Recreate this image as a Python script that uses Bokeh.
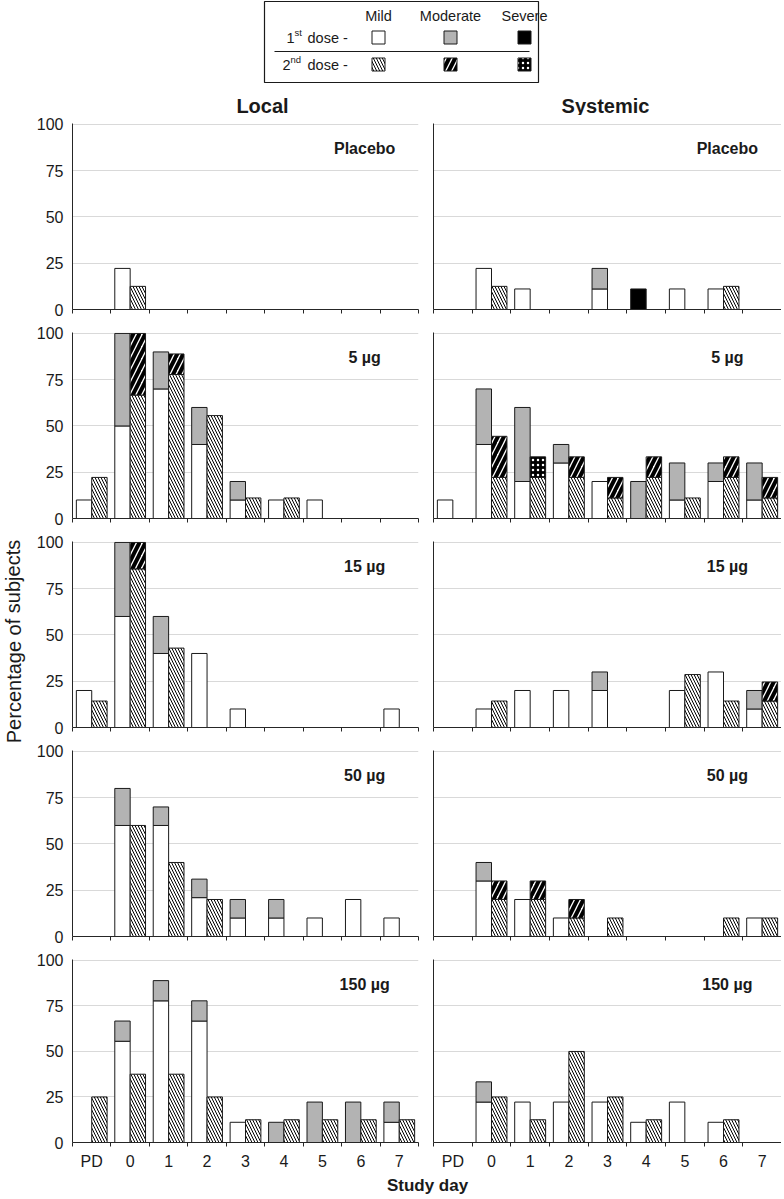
import math
from bokeh.plotting import figure
from bokeh.models import Range1d, FixedTicker, ColumnDataSource
from bokeh.layouts import column, row
from bokeh.embed import file_html
from bokeh.resources import INLINE
from bokeh.core.properties import value

FONT = "Liberation Sans"
INK = "#1a1a1a"

DAYS = ["PD", "0", "1", "2", "3", "4", "5", "6", "7"]
PANEL_LABELS = ["Placebo", "5 µg", "15 µg", "50 µg", "150 µg"]
NONE = [0, 0, 0, 0, 0, 0, 0, 0, 0]

# ---------------- Local reactions (percentage of subjects) ----------------
LOC_PLA_D1_MILD = [0, 22.2, 0, 0, 0, 0, 0, 0, 0]
LOC_PLA_D2_MILD = [0, 12.5, 0, 0, 0, 0, 0, 0, 0]

LOC_5_D1_MILD = [10, 50, 70, 40, 10, 10, 10, 0, 0]
LOC_5_D1_MOD = [0, 50, 20, 20, 10, 0, 0, 0, 0]
LOC_5_D2_MILD = [22.2, 66.7, 77.8, 55.6, 11.1, 11.1, 0, 0, 0]
LOC_5_D2_MOD = [0, 33.3, 11.1, 0, 0, 0, 0, 0, 0]

LOC_15_D1_MILD = [20, 60, 40, 40, 10, 0, 0, 0, 10]
LOC_15_D1_MOD = [0, 40, 20, 0, 0, 0, 0, 0, 0]
LOC_15_D2_MILD = [14.3, 85.7, 42.9, 0, 0, 0, 0, 0, 0]
LOC_15_D2_MOD = [0, 14.3, 0, 0, 0, 0, 0, 0, 0]

LOC_50_D1_MILD = [0, 60, 60, 21, 10, 10, 10, 20, 10]
LOC_50_D1_MOD = [0, 20, 10, 10, 10, 10, 0, 0, 0]
LOC_50_D2_MILD = [0, 60, 40, 20, 0, 0, 0, 0, 0]

LOC_150_D1_MILD = [0, 55.6, 77.8, 66.7, 11.1, 0, 0, 0, 11.1]
LOC_150_D1_MOD = [0, 11.1, 11.1, 11.1, 0, 11.1, 22.2, 22.2, 11.1]
LOC_150_D2_MILD = [25, 37.5, 37.5, 25, 12.5, 12.5, 12.5, 12.5, 12.5]

# ---------------- Systemic reactions (percentage of subjects) ----------------
SYS_PLA_D1_MILD = [0, 22.2, 11.1, 0, 11.1, 0, 11.1, 11.1, 0]
SYS_PLA_D1_MOD = [0, 0, 0, 0, 11.1, 0, 0, 0, 0]
SYS_PLA_D1_SEV = [0, 0, 0, 0, 0, 11.1, 0, 0, 0]
SYS_PLA_D2_MILD = [0, 12.5, 0, 0, 0, 0, 0, 12.5, 0]

SYS_5_D1_MILD = [10, 40, 20, 30, 20, 0, 10, 20, 10]
SYS_5_D1_MOD = [0, 30, 40, 10, 0, 20, 20, 10, 20]
SYS_5_D2_MILD = [0, 22.2, 22.2, 22.2, 11.1, 22.2, 11.1, 22.2, 11.1]
SYS_5_D2_MOD = [0, 22.2, 0, 11.1, 11.1, 11.1, 0, 11.1, 11.1]
SYS_5_D2_SEV = [0, 0, 11.1, 0, 0, 0, 0, 0, 0]

SYS_15_D1_MILD = [0, 10, 20, 20, 20, 0, 20, 30, 10]
SYS_15_D1_MOD = [0, 0, 0, 0, 10, 0, 0, 0, 10]
SYS_15_D2_MILD = [0, 14.3, 0, 0, 0, 0, 28.6, 14.3, 14.3]
SYS_15_D2_MOD = [0, 0, 0, 0, 0, 0, 0, 0, 10.3]

SYS_50_D1_MILD = [0, 30, 20, 10, 0, 0, 0, 0, 10]
SYS_50_D1_MOD = [0, 10, 0, 0, 0, 0, 0, 0, 0]
SYS_50_D2_MILD = [0, 20, 20, 10, 10, 0, 0, 10, 10]
SYS_50_D2_MOD = [0, 10, 10, 10, 0, 0, 0, 0, 0]

SYS_150_D1_MILD = [0, 22.2, 22.2, 22.2, 22.2, 11.1, 22.2, 11.1, 0]
SYS_150_D1_MOD = [0, 11.1, 0, 0, 0, 0, 0, 0, 0]
SYS_150_D2_MILD = [0, 25, 12.5, 50, 25, 12.5, 0, 12.5, 0]

# (dose1 mild, mod, sev), (dose2 mild, mod, sev)
LOCAL_PANELS = [
    ((LOC_PLA_D1_MILD, NONE, NONE), (LOC_PLA_D2_MILD, NONE, NONE)),
    ((LOC_5_D1_MILD, LOC_5_D1_MOD, NONE), (LOC_5_D2_MILD, LOC_5_D2_MOD, NONE)),
    ((LOC_15_D1_MILD, LOC_15_D1_MOD, NONE), (LOC_15_D2_MILD, LOC_15_D2_MOD, NONE)),
    ((LOC_50_D1_MILD, LOC_50_D1_MOD, NONE), (LOC_50_D2_MILD, NONE, NONE)),
    ((LOC_150_D1_MILD, LOC_150_D1_MOD, NONE), (LOC_150_D2_MILD, NONE, NONE)),
]
SYSTEMIC_PANELS = [
    ((SYS_PLA_D1_MILD, SYS_PLA_D1_MOD, SYS_PLA_D1_SEV), (SYS_PLA_D2_MILD, NONE, NONE)),
    ((SYS_5_D1_MILD, SYS_5_D1_MOD, NONE), (SYS_5_D2_MILD, SYS_5_D2_MOD, SYS_5_D2_SEV)),
    ((SYS_15_D1_MILD, SYS_15_D1_MOD, NONE), (SYS_15_D2_MILD, SYS_15_D2_MOD, NONE)),
    ((SYS_50_D1_MILD, SYS_50_D1_MOD, NONE), (SYS_50_D2_MILD, SYS_50_D2_MOD, NONE)),
    ((SYS_150_D1_MILD, SYS_150_D1_MOD, NONE), (SYS_150_D2_MILD, NONE, NONE)),
]

GRAY = "#b3b3b3"
STYLES = {
    (1, 0): dict(fill_color="white"),
    (1, 1): dict(fill_color=GRAY),
    (1, 2): dict(fill_color="black"),
    (2, 0): dict(fill_color="white", hatch_pattern="\\", hatch_color="black", hatch_weight=1, hatch_scale=6),
    (2, 1): dict(fill_color="white", hatch_pattern="/", hatch_color="black", hatch_weight=4, hatch_scale=12),
    (2, 2): dict(fill_color="black", hatch_pattern=".", hatch_color="white", hatch_weight=1, hatch_scale=5),
}

W_LEFT, W_RIGHT, W_YLAB = 392, 356, 33
TOTAL_W = W_YLAB + W_LEFT + W_RIGHT
HDR_H = 115


def clean(p):
    p.outline_line_color = None
    p.background_fill_color = "white"
    p.border_fill_color = "white"


def make_panel(data, label, left_side, k):
    bottom = (k == 4)
    mt = 8 if k == 0 else 10
    mb = 27 if bottom else 13
    p = figure(width=W_LEFT if left_side else W_RIGHT, height=mt + 186 + mb,
               output_backend="svg", toolbar_location=None,
               x_range=Range1d(-0.5, 8.5), y_range=Range1d(0, 100.5),
               min_border_left=38 if left_side else 8,
               min_border_right=7 if left_side else 0,
               min_border_top=mt, min_border_bottom=mb)
    clean(p)
    # stacked bars: dose 1 left of the day centre, dose 2 right of it
    for dose, (offset, stacks) in enumerate(((-0.2, data[0]), (0.2, data[1])), start=1):
        base = [0.0] * 9
        for sev, vals in enumerate(stacks):
            xs, bots, tops = [], [], []
            for i in range(9):
                if vals[i] > 0:
                    xs.append(i + offset)
                    bots.append(base[i])
                    tops.append(base[i] + vals[i])
            base = [base[i] + vals[i] for i in range(9)]
            if xs:
                src = ColumnDataSource(dict(x=xs, bottom=bots, top=tops))
                p.vbar(x="x", bottom="bottom", top="top", width=0.4, source=src,
                       line_color=INK, line_width=1, **STYLES[(dose, sev)])
    p.text(x=[7.1], y=[87], text=[label], text_font=value(FONT), text_font_style="bold",
           text_font_size="16px", text_align="center", text_baseline="middle", text_color=INK)
    # grid
    p.xgrid.visible = False
    p.ygrid.ticker = FixedTicker(ticks=[25, 50, 75, 100])
    p.ygrid.grid_line_color = "#d9d9d9"
    p.ygrid.grid_line_width = 1
    # x axis: tick marks between days, labels only on the bottom row
    xa = p.xaxis[0]
    bounds = [i - 0.5 for i in range(10)]
    if bottom:
        xa.ticker = FixedTicker(ticks=list(range(9)), minor_ticks=bounds)
        xa.major_label_overrides = {i: DAYS[i] for i in range(9)}
        xa.major_label_text_font = FONT
        xa.major_label_text_font_size = "16px"
        xa.major_label_text_color = INK
        xa.major_label_standoff = 6
    else:
        xa.ticker = FixedTicker(ticks=[], minor_ticks=bounds)
    xa.major_tick_in = 0
    xa.major_tick_out = 0
    xa.minor_tick_in = 0
    xa.minor_tick_out = 4
    xa.minor_tick_line_color = "#262626"
    xa.axis_line_color = "#262626"
    # y axis
    ya = p.yaxis[0]
    ya.major_tick_in = 0
    ya.major_tick_out = 0
    ya.minor_tick_line_color = None
    ya.axis_line_color = "#262626"
    if left_side:
        ya.ticker = FixedTicker(ticks=[0, 25, 50, 75, 100])
        ya.major_label_text_font = FONT
        ya.major_label_text_font_size = "16px"
        ya.major_label_text_color = INK
        ya.major_label_standoff = 9
    else:
        ya.ticker = FixedTicker(ticks=[])
    return p


left_col = column(*[make_panel(LOCAL_PANELS[k], PANEL_LABELS[k], True, k) for k in range(5)])
right_col = column(*[make_panel(SYSTEMIC_PANELS[k], PANEL_LABELS[k], False, k) for k in range(5)])

PANELS_H = (8 + 186 + 13) + 3 * (10 + 186 + 13) + (10 + 186 + 27)
PANELS_BOTTOM = HDR_H + PANELS_H

# ---------------- header: legend + column titles ----------------
hdr = figure(width=TOTAL_W, height=HDR_H, output_backend="svg", toolbar_location=None,
             x_range=Range1d(0, TOTAL_W), y_range=Range1d(HDR_H, 0), min_border=0)
clean(hdr)
hdr.axis.visible = False
hdr.grid.visible = False

hdr.quad(left=[264], right=[538], top=[1], bottom=[82], fill_color=None, line_color=INK, line_width=1.2)
hdr.segment(x0=[274], x1=[529], y0=[51], y1=[51], line_color=INK, line_width=1.2)

LEG_COLS = ["Mild", "Moderate", "Severe"]
LEG_X = [378, 450, 524]
hdr.text(x=LEG_X, y=[15] * 3, text=LEG_COLS, text_font=value(FONT), text_font_size="14.5px",
         text_align="center", text_baseline="middle", text_color=INK)
hdr.text(x=[286, 282], y=[37, 64], text=["1", "2"], text_font=value(FONT), text_font_size="14.5px",
         text_align="left", text_baseline="middle", text_color=INK)
hdr.text(x=[294, 290], y=[32, 59], text=["st", "nd"], text_font=value(FONT), text_font_size="9.5px",
         text_align="left", text_baseline="middle", text_color=INK)
hdr.text(x=[307, 307], y=[37, 64], text=["dose -", "dose -"], text_font=value(FONT), text_font_size="14.5px",
         text_align="left", text_baseline="middle", text_color=INK)
for dose, yc in ((1, 37), (2, 64)):
    for sev in range(3):
        xc = LEG_X[sev]
        hdr.quad(left=[xc - 6.5], right=[xc + 6.5], top=[yc - 6.5], bottom=[yc + 6.5],
                 line_color=INK, line_width=1, **STYLES[(dose, sev)])

hdr.text(x=[262, 605], y=[105, 105], text=["Local", "Systemic"], text_font=value(FONT),
         text_font_style="bold", text_font_size="20px", text_align="center",
         text_baseline="middle", text_color=INK)

# ---------------- y label ----------------
ylab = figure(width=W_YLAB, height=PANELS_H, output_backend="svg", toolbar_location=None,
              x_range=Range1d(0, W_YLAB), y_range=Range1d(PANELS_BOTTOM, HDR_H), min_border=0)
clean(ylab)
ylab.axis.visible = False
ylab.grid.visible = False
ylab.text(x=[13], y=[641], text=["Percentage of subjects"], angle=[math.pi / 2],
          text_font=value(FONT), text_font_size="20px", text_align="center",
          text_baseline="middle", text_color=INK)

# ---------------- footer ----------------
FTR_H = 24
ftr = figure(width=TOTAL_W, height=FTR_H, output_backend="svg", toolbar_location=None,
             x_range=Range1d(0, TOTAL_W), y_range=Range1d(PANELS_BOTTOM + FTR_H, PANELS_BOTTOM),
             min_border=0)
clean(ftr)
ftr.axis.visible = False
ftr.grid.visible = False
ftr.text(x=[427], y=[PANELS_BOTTOM + 13], text=["Study day"], text_font=value(FONT), text_font_style="bold",
         text_font_size="17px", text_align="center", text_baseline="middle", text_color=INK)

layout = column(hdr, row(ylab, left_col, right_col), ftr)

open("out.html", "w").write(file_html(layout, INLINE))
